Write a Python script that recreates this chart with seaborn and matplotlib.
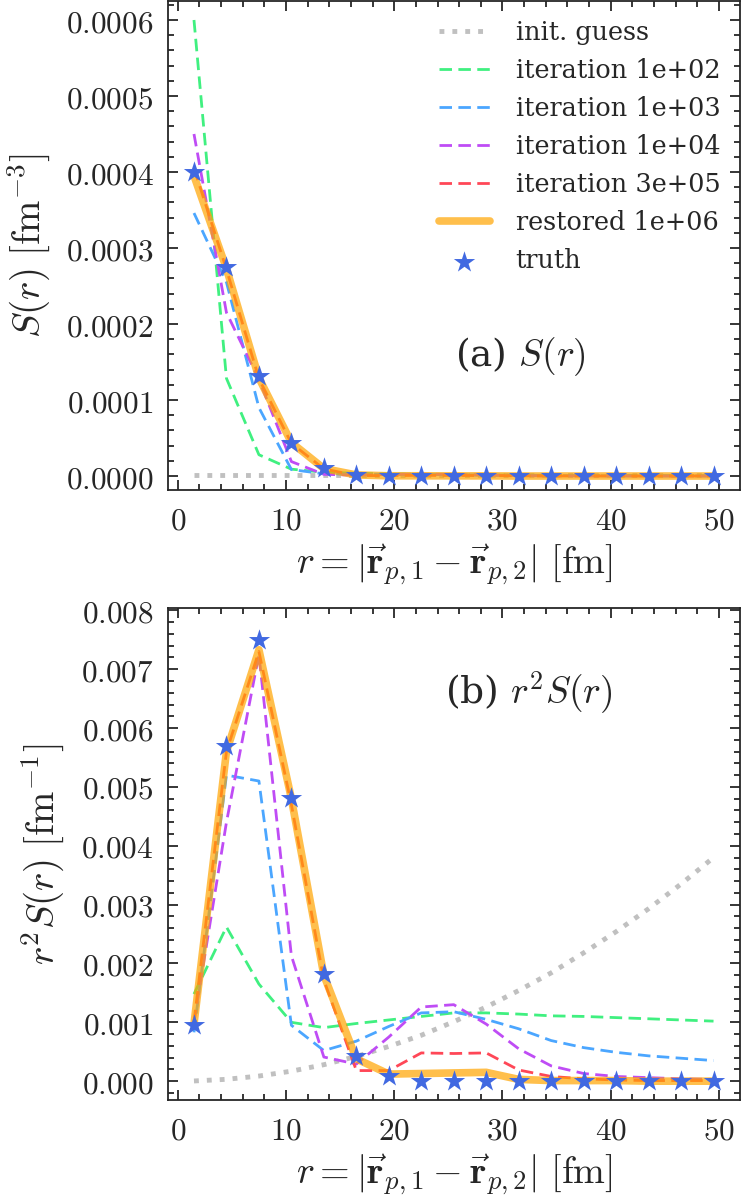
import matplotlib
matplotlib.use("Agg")
import matplotlib.pyplot as plt
import seaborn as sns
import numpy as np
from matplotlib.ticker import AutoMinorLocator, MultipleLocator, FuncFormatter

# r grid [fm]
r = [1.5, 4.5, 7.5, 10.5, 13.5, 16.5, 19.5, 22.5, 25.5, 28.5, 31.5, 34.5, 37.5, 40.5, 43.5, 46.5, 49.5]

# panel (a): S(r) [fm^-3]
s_init = [1.6e-6, 1.6e-6, 1.6e-6, 1.6e-6, 1.6e-6, 1.6e-6, 1.6e-6, 1.6e-6, 1.6e-6,
          1.6e-6, 1.6e-6, 1.6e-6, 1.6e-6, 1.6e-6, 1.6e-6, 1.6e-6, 1.6e-6]
s_it1e2 = [6.0e-4, 1.285e-4, 2.8e-5, 9.0e-6, 5.0e-6, 3.6e-6, 2.7e-6, 2.2e-6, 1.8e-6,
           1.4e-6, 1.15e-6, 9.3e-7, 7.7e-7, 6.4e-7, 5.5e-7, 4.7e-7, 4.1e-7]
s_it1e3 = [3.46e-4, 2.55e-4, 9.0e-5, 8.5e-6, 2.9e-6, 2.5e-6, 2.4e-6, 2.3e-6, 1.8e-6,
           1.3e-6, 9e-7, 6e-7, 4e-7, 3e-7, 2.3e-7, 1.8e-7, 1.4e-7]
s_it1e4 = [4.5e-4, 2.15e-4, 1.27e-4, 1.9e-5, 2.2e-6, 1.1e-6, 2.0e-6, 2.5e-6, 2.0e-6,
           1.2e-6, 5e-7, 2e-7, 1e-7, 5e-8, 3e-8, 2e-8, 1e-8]
s_it3e5 = [4.05e-4, 2.72e-4, 1.28e-4, 4.3e-5, 9.4e-6, 6e-7, 5e-7, 9e-7, 7e-7,
           6e-7, 2e-7, 1e-7, 0.0, 0.0, 0.0, 0.0, 0.0]
s_restored = [3.95e-4, 2.73e-4, 1.29e-4, 4.4e-5, 9.8e-6, 1.4e-6, 3e-7, 3e-7, 2e-7,
              2e-7, 0.0, 0.0, 0.0, 0.0, 0.0, 0.0, 0.0]
s_truth = [4.0e-4, 2.75e-4, 1.31e-4, 4.3e-5, 1.0e-5, 1.5e-6, 2e-7, 0.0, 0.0,
           0.0, 0.0, 0.0, 0.0, 0.0, 0.0, 0.0, 0.0]

# panel (b): r^2 S(r) [fm^-1]
b_init = [0.0000035, 0.0000314, 0.000087, 0.00017, 0.00028, 0.00042, 0.00059, 0.00078, 0.00101,
          0.00126, 0.00154, 0.00184, 0.00218, 0.00254, 0.00293, 0.00335, 0.0038]
b_it1e2 = [0.00148, 0.00262, 0.00165, 0.001, 0.00091, 0.00098, 0.00104, 0.0011, 0.00116,
           0.00116, 0.00114, 0.00111, 0.0011, 0.00108, 0.00106, 0.00104, 0.00102]
b_it1e3 = [0.00083, 0.0052, 0.0051, 0.00095, 0.00052, 0.00068, 0.00093, 0.00116, 0.00118,
           0.00105, 0.00089, 0.00069, 0.00057, 0.00049, 0.00043, 0.00039, 0.00035]
b_it1e4 = [0.001, 0.0044, 0.00725, 0.00213, 0.00041, 0.00029, 0.00075, 0.00126, 0.0013,
           0.00097, 0.00055, 0.00026, 0.00013, 0.00008, 0.00006, 0.00004, 0.00003]
b_it3e5 = [0.001, 0.0056, 0.0073, 0.0047, 0.00172, 0.00018, 0.00018, 0.00048, 0.00047,
           0.00048, 0.00019, 0.00008, 0.00004, 0.00002, 0.00001, 0.00001, 0.00001]
b_restored = [0.00097, 0.0056, 0.00733, 0.0048, 0.0018, 0.00038, 0.00012, 0.00013, 0.00014,
              0.00015, 0.00003, 0.00001, 0.00001, 0.00001, 0.0, 0.0, 0.0]
b_truth = [0.00096, 0.0057, 0.0075, 0.00482, 0.00182, 0.00043, 0.00008, 0.00001, 0.0,
           0.0, 0.0, 0.0, 0.0, 0.0, 0.0, 0.0, 0.0]

labels = ["init. guess", "iteration 1e+02", "iteration 1e+03", "iteration 1e+04",
          "iteration 3e+05", "restored 1e+06", "truth"]

sns.set_style("ticks")
plt.rcParams["font.family"] = ["DejaVu Serif"]
plt.rcParams["mathtext.fontset"] = "cm"
plt.rcParams["axes.linewidth"] = 1.3

fig = plt.figure(figsize=(7.41, 12), dpi=100)
ax1 = fig.add_axes([168/741, 1 - 490/1200, (739.5-168)/741, 489/1200])
ax2 = fig.add_axes([168/741, 1 - 1100/1200, (739.5-168)/741, 492/1200])

dash = (4.5, 2.3)


def draw(ax, ys):
    init, i2, i3, i4, i5, rest, truth = ys
    sns.lineplot(x=r, y=init, ax=ax, color="silver", linestyle=":", lw=3.5, label=labels[0])
    sns.lineplot(x=r, y=i2, ax=ax, color="#40f080", linestyle=(0, dash), lw=2, label=labels[1])
    sns.lineplot(x=r, y=i3, ax=ax, color="#4ba6ff", linestyle=(0, dash), lw=2, label=labels[2])
    sns.lineplot(x=r, y=i4, ax=ax, color="#bf4cf5", linestyle=(0, dash), lw=2, label=labels[3])
    sns.lineplot(x=r, y=i5, ax=ax, color="#ff4757", linestyle=(0, dash), lw=2, label=labels[4])
    sns.lineplot(x=r, y=rest, ax=ax, color="orange", alpha=0.7, lw=5.5, label=labels[5])
    sns.scatterplot(x=r, y=truth, ax=ax, color="royalblue", marker="*", s=260,
                    linewidth=0, zorder=5, label=labels[6])


draw(ax1, [s_init, s_it1e2, s_it1e3, s_it1e4, s_it3e5, s_restored, s_truth])
draw(ax2, [b_init, b_it1e2, b_it1e3, b_it1e4, b_it3e5, b_restored, b_truth])

xlab = r"$r = |\vec{\mathbf{r}}_{p,1} - \vec{\mathbf{r}}_{p,2}|\ [\mathrm{fm}]$"
for ax in (ax1, ax2):
    ax.set_xlim(-0.9, 51.9)
    ax.xaxis.set_major_locator(MultipleLocator(10))
    ax.xaxis.set_minor_locator(AutoMinorLocator(5))
    ax.yaxis.set_minor_locator(AutoMinorLocator(5))
    ax.tick_params(which="both", direction="in", top=True, right=True, width=1.3)
    ax.tick_params(which="major", length=7, labelsize=22.5)
    ax.tick_params(axis="y", which="major", pad=10.5)
    ax.tick_params(axis="x", which="major", pad=11)
    ax.tick_params(which="minor", length=4)
    ax.xaxis.set_major_formatter(FuncFormatter(lambda v, p: f"${v:.0f}$"))
    ax.set_xlabel(xlab, fontsize=27.5, labelpad=4)

ax1.set_ylim(-0.0000184, 0.000625)
ax1.yaxis.set_major_locator(MultipleLocator(0.0001))
ax1.yaxis.set_major_formatter(FuncFormatter(lambda v, p: f"${v:.4f}$"))
ax1.set_ylabel(r"$S(r)\ [\mathrm{fm}^{-3}]$", fontsize=28, labelpad=10)
ax1.text(0.502, 0.272, r"(a) $S(r)$", transform=ax1.transAxes, fontsize=27, va="center")
ax1.legend(loc="upper right", frameon=False, fontsize=18.4, handlelength=2.0,
           handletextpad=1.0, labelspacing=0.51, borderaxespad=0.35)

ax2.set_ylim(-0.00032, 0.00804)
ax2.yaxis.set_major_locator(MultipleLocator(0.001))
ax2.yaxis.set_major_formatter(FuncFormatter(lambda v, p: f"${v:.3f}$"))
ax2.set_ylabel(r"$r^2S(r)\ [\mathrm{fm}^{-1}]$", fontsize=28, labelpad=10)
ax2.text(0.484, 0.827, r"(b) $r^2S(r)$", transform=ax2.transAxes, fontsize=27, va="center")
ax2.get_legend().remove()

fig.savefig("out.png", dpi=100)
